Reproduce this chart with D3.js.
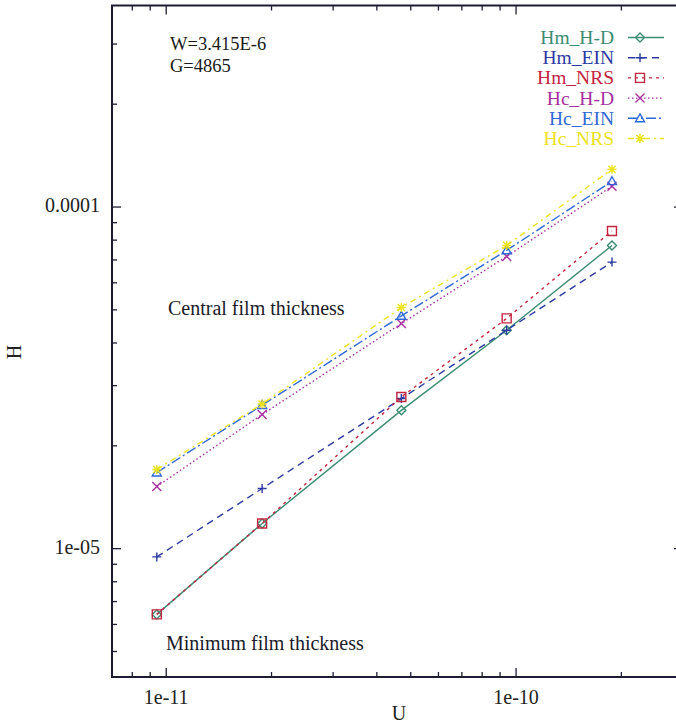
<!DOCTYPE html>
<html>
<head>
<meta charset="UTF-8" />
<title>H vs U</title>
<style>
  body { margin: 0; background: #fff; }
  svg text { font-family: "Liberation Serif", "DejaVu Serif", serif; }
</style>
</head>
<body>
<svg width="676" height="726"></svg>
<script src="https://cdn.jsdelivr.net/npm/d3@7/dist/d3.min.js"></script>
<script>
// data
const U = [9.4e-12, 1.88e-11, 4.7e-11, 9.4e-11, 1.88e-10];
const hmHD = [6.42e-6, 1.185e-5, 2.54e-5, 4.36e-5, 7.72e-5];
const hmEIN = [9.46e-6, 1.5e-5, 2.75e-5, 4.36e-5, 6.9e-5];
const hmNRS = [6.42e-6, 1.185e-5, 2.78e-5, 4.72e-5, 8.51e-5];
const hcHD = [1.52e-5, 2.47e-5, 4.56e-5, 7.17e-5, 1.15e-4];
const hcEIN = [1.67e-5, 2.63e-5, 4.8e-5, 7.47e-5, 1.19e-4];
const hcNRS = [1.705e-5, 2.65e-5, 5.08e-5, 7.72e-5, 1.289e-4];
const seriesNames = ["Hm_H-D", "Hm_EIN", "Hm_NRS", "Hc_H-D", "Hc_EIN", "Hc_NRS"];
const xTickLabels = ["1e-11", "1e-10"];
const yTickLabels = ["1e-05", "0.0001"];
const notes = ["W=3.415E-6", "G=4865"];

// styles
const colors = ["#3b8c72", "#2b3aa2", "#c3243f", "#a62fa0", "#2f68d6", "#eee21a"];
const dashes = [null, "7,5", "3,4", "1.5,2.5", "10,3,2,3", "6,4,2,4"];
const markers = ["diamond", "plus", "square", "cross", "triangle", "star"];
const values = [hmHD, hmEIN, hmNRS, hcHD, hcEIN, hcNRS];

const series = seriesNames.map((name, i) => ({
  name: name,
  color: colors[i],
  dash: dashes[i],
  marker: markers[i],
  pts: U.map((u, j) => [u, values[i][j]])
}));

const M = { left: 112, right: 683, top: 5.5, bottom: 677 };
const x = d3.scaleLog().domain([7e-12, 3e-10]).range([M.left, M.right]);
const y = d3.scaleLog().domain([4.21e-6, 3.89e-4]).range([M.bottom, M.top]);

const svg = d3.select("svg");
const ink = "#1d1c33";
const FONT = 20;

// marker shapes
function markerPath(type) {
  const s = 4.5;
  switch (type) {
    case "diamond": return `M0,${-s}L${s},0L0,${s}L${-s},0Z`;
    case "plus": return `M${-s},0H${s}M0,${-s}V${s}`;
    case "square": return `M${-s},${-s}H${s}V${s}H${-s}Z`;
    case "cross": return `M${-s},${-s}L${s},${s}M${-s},${s}L${s},${-s}`;
    case "triangle": return `M0,${-s}L${s},${s * 0.75}L${-s},${s * 0.75}Z`;
    case "star": return `M${-s},0H${s}M0,${-s}V${s}M${-s * 0.8},${-s * 0.8}L${s * 0.8},${s * 0.8}M${-s * 0.8},${s * 0.8}L${s * 0.8},${-s * 0.8}`;
  }
}

// ticks (mirrored on all sides)
const xt = x.ticks();
const yt = y.ticks();
const isMajor = (v) => Math.abs(Math.log10(v) - Math.round(Math.log10(v))) < 1e-6;

const tickG = svg.append("g").attr("stroke", ink).attr("stroke-width", 1.3);
xt.forEach((v) => {
  const len = isMajor(v) ? 9 : 5;
  tickG.append("line").attr("x1", x(v)).attr("x2", x(v)).attr("y1", M.bottom).attr("y2", M.bottom - len);
  tickG.append("line").attr("x1", x(v)).attr("x2", x(v)).attr("y1", M.top).attr("y2", M.top + len);
});
yt.forEach((v) => {
  const len = isMajor(v) ? 9 : 5;
  tickG.append("line").attr("y1", y(v)).attr("y2", y(v)).attr("x1", M.left).attr("x2", M.left + len);
  tickG.append("line").attr("y1", y(v)).attr("y2", y(v)).attr("x1", M.right).attr("x2", M.right - len);
});

// frame
svg.append("rect")
  .attr("x", M.left).attr("y", M.top)
  .attr("width", M.right - M.left).attr("height", M.bottom - M.top)
  .attr("fill", "none").attr("stroke", ink).attr("stroke-width", 2);

// tick labels
const xMaj = xt.filter(isMajor);
svg.selectAll(".xlab").data(xMaj).enter().append("text")
  .attr("class", "xlab")
  .attr("x", (d) => x(d)).attr("y", 704)
  .attr("text-anchor", "middle").attr("font-size", FONT).attr("fill", "#222")
  .text((d, i) => xTickLabels[i]);
const yMaj = yt.filter(isMajor);
svg.selectAll(".ylab").data(yMaj).enter().append("text")
  .attr("class", "ylab")
  .attr("x", 100).attr("y", (d) => y(d) + 5)
  .attr("text-anchor", "end").attr("font-size", FONT).attr("fill", "#222")
  .text((d, i) => yTickLabels[i]);

// axis titles
svg.append("text").attr("x", 399).attr("y", 720)
  .attr("text-anchor", "middle").attr("font-size", FONT).attr("fill", "#222").text("U");
svg.append("text").attr("transform", "translate(21,352) rotate(-90)")
  .attr("text-anchor", "middle").attr("font-size", FONT).attr("fill", "#222").text("H");

// notes
svg.selectAll(".note").data(notes).enter().append("text")
  .attr("class", "note")
  .attr("x", 170).attr("y", (d, i) => 50 + i * 21.5)
  .attr("font-size", 18.5).attr("fill", "#1a1a1a").text((d) => d);
svg.append("text").attr("x", 168).attr("y", 315)
  .attr("font-size", FONT).attr("fill", "#1a1a2a").text("Central film thickness");
svg.append("text").attr("x", 166).attr("y", 650)
  .attr("font-size", FONT).attr("fill", "#1a1a2a").text("Minimum film thickness");

// lines + markers
const line = d3.line().x((d) => x(d[0])).y((d) => y(d[1]));
const sg = svg.selectAll(".series").data(series).enter().append("g").attr("class", "series");
sg.append("path")
  .attr("d", (d) => line(d.pts))
  .attr("fill", "none")
  .attr("stroke", (d) => d.color)
  .attr("stroke-width", 1.4)
  .attr("stroke-dasharray", (d) => d.dash);
sg.each(function (d) {
  d3.select(this).selectAll(".mk").data(d.pts).enter().append("path")
    .attr("class", "mk")
    .attr("transform", (p) => `translate(${x(p[0])},${y(p[1])})`)
    .attr("d", markerPath(d.marker))
    .attr("fill", "none").attr("stroke", d.color).attr("stroke-width", 1.4);
});

// legend
const lg = svg.selectAll(".leg").data(series).enter().append("g")
  .attr("class", "leg")
  .attr("transform", (d, i) => `translate(0,${37.5 + i * 20.2})`);
lg.append("text").attr("x", 614).attr("y", 6.5)
  .attr("text-anchor", "end").attr("font-size", 19.5)
  .attr("fill", (d) => d.color).text((d) => d.name);
lg.append("line").attr("x1", 628).attr("x2", 664).attr("y1", 0).attr("y2", 0)
  .attr("stroke", (d) => d.color).attr("stroke-width", 1.4)
  .attr("stroke-dasharray", (d) => d.dash);
lg.append("path").attr("transform", "translate(640,0)")
  .attr("d", (d) => markerPath(d.marker))
  .attr("fill", "none").attr("stroke", (d) => d.color).attr("stroke-width", 1.4);
</script>
</body>
</html>
